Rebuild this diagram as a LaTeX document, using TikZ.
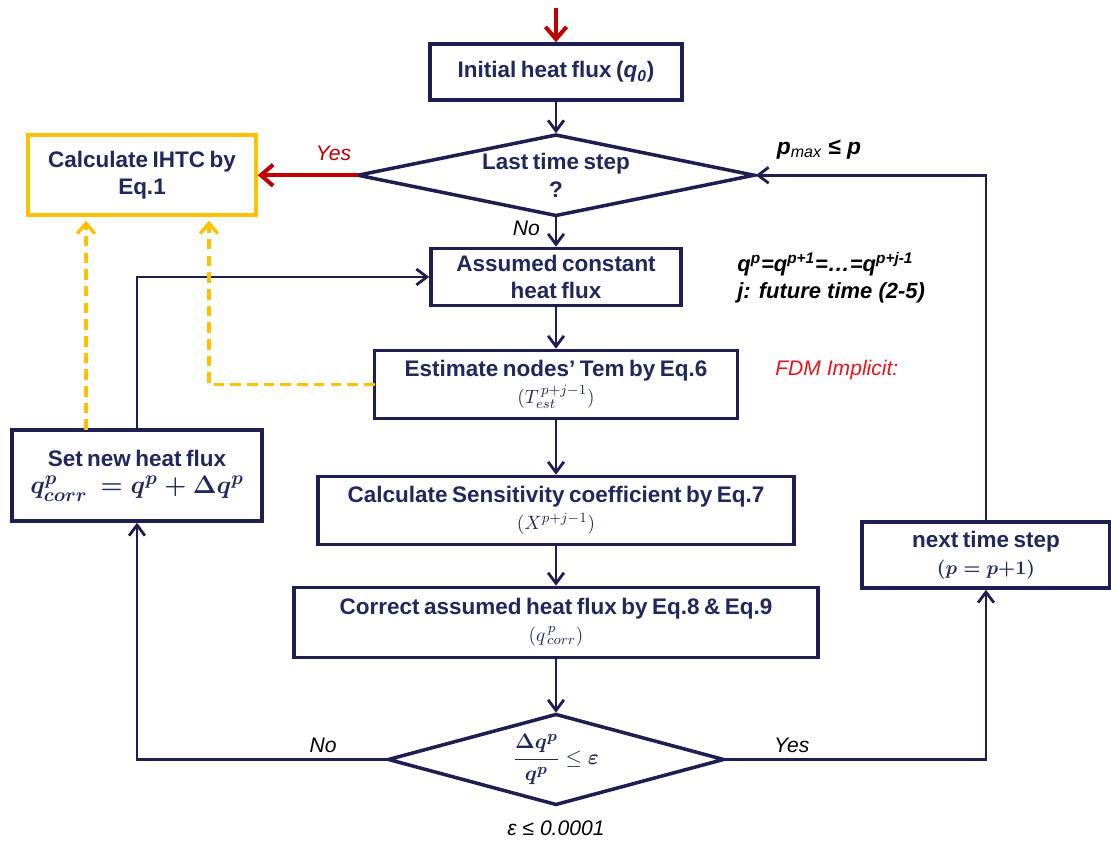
\documentclass[tikz,border=0pt]{standalone}
\usepackage{fontspec}
\setmainfont{Liberation Sans}
\usepackage{amsmath}
\usepackage{tikz}
\usetikzlibrary{positioning, shapes.geometric, arrows.meta}
\definecolor{navyline}{RGB}{30,30,80}
\definecolor{navytext}{RGB}{32,40,92}
\definecolor{darkred}{RGB}{192,0,0}
\definecolor{ambery}{RGB}{255,192,0}
\definecolor{fdmred}{RGB}{230,20,30}
\newcommand{\boxfont}{\fontsize{12.8}{15.5}\selectfont\bfseries\spaceskip=0.2em plus 0.05em\relax}

\begin{document}
\begin{tikzpicture}[font=\fontsize{12}{15}\selectfont, node distance=0.7cm,
  box/.style={draw=navyline, line width=2pt, fill=white, text=navytext, align=center, inner sep=1pt, outer sep=0pt, font=\boxfont},
  dec/.style={diamond, aspect=4, draw=navyline, line width=2pt, fill=white, text=navytext, align=center, inner sep=0pt, outer sep=0pt, font=\boxfont},
  line/.style={draw=navyline, line width=1.6pt, -{Straight Barb[length=6pt, width=9pt]}, shorten >=1pt},
  redline/.style={draw=darkred, line width=2.3pt, -{Straight Barb[length=7pt, width=12pt]}, shorten >=1pt},
  yline/.style={draw=ambery, line width=1.9pt, dash pattern=on 6pt off 3.5pt, -{Straight Barb[length=6pt, width=10pt]}, shorten >=3pt},
  lbl/.style={font=\fontsize{12}{14}\selectfont\itshape}]

\useasboundingbox (0,0) rectangle (22.22,-17);

% main column
\node[box, minimum width=5.04cm, minimum height=1.12cm] (init) at (11.12,-1.44) {Initial heat flux ({\itshape q\textsubscript{0}})};
\node[dec, minimum width=7.92cm, minimum height=1.6cm, below=0.7cm of init] (last) {Last time step\\?};
\node[box, minimum width=5cm, minimum height=1.14cm, below=0.66cm of last] (assumed) {Assumed constant\\heat flux};
\node[box, minimum width=7.26cm, minimum height=1.36cm, below=0.9cm of assumed] (est) {Estimate nodes’ Tem by Eq.6\\{\normalfont\fontsize{11}{13}\selectfont$(T_{est}^{\,p+j-1})$}};
\node[box, minimum width=9.52cm, minimum height=1.36cm, below=1.16cm of est] (sens) {Calculate Sensitivity coefficient by Eq.7\\{\normalfont\fontsize{11}{13}\selectfont$(X^{p+j-1})$}};
\node[box, minimum width=10.48cm, minimum height=1.4cm, below=0.86cm of sens] (corr) {Correct assumed heat flux by Eq.8 \& Eq.9\\{\normalfont\fontsize{11}{13}\selectfont$(q_{\,corr}^{\,p})$}};
\node[dec, aspect=3.7, minimum width=6.7cm, minimum height=1.8cm, below=1.14cm of corr] (conv) {\fontsize{13}{16}\selectfont$\boldsymbol{\dfrac{\Delta q^{p}}{q^{p}}} \le \boldsymbol{\varepsilon}$};

% side boxes
\node[box, draw=ambery, line width=2.4pt, minimum width=4.56cm, minimum height=1.6cm, left=2.04cm of last] (ihtc) {Calculate IHTC by\\Eq.1};
\node[box, minimum width=5cm, minimum height=1.82cm] (setq) at (2.74,-9.51) {Set new heat flux\\{\fontsize{15}{18}\selectfont$\boldsymbol{q^{p}_{corr} \,= q^{p} + \Delta q^{p}}$}};
\node[box, minimum width=4.96cm, minimum height=1.32cm] (next) at (19.72,-11.1) {next time step\\{\normalfont\fontsize{11}{13}\selectfont$\boldsymbol{(p = p{+}1)}$}};

% notes
\node[anchor=north west, align=left, inner sep=0pt, font=\fontsize{12.5}{15}\selectfont\bfseries\itshape] (note) at (14.74,-5.05) {q\textsuperscript{p}=q\textsuperscript{p+1}=\dots=q\textsuperscript{p+j-1}\\j: future time (2-5)};
\node[anchor=west, inner sep=0pt, lbl, text=fdmred] (fdm) at (15.5,-7.4) {FDM Implicit:};
\node[below=0.2cm of conv, lbl] (eps) {ε ≤ 0.0001};

\coordinate (start) at ([yshift=0.72cm]init.north);
\coordinate (yl) at ([xshift=-1.12cm]ihtc.south);
\coordinate (yr) at ([xshift=1.34cm]ihtc.south);

\draw[redline] (start) -- (init);
\draw[line] (init) -- (last);
\draw[line] (last) -- node[pos=0.4, left=5pt, lbl] {No} (assumed);
\draw[line] (assumed) -- (est);
\draw[line] (est) -- (sens);
\draw[line] (sens) -- (corr);
\draw[line] (corr) -- (conv);
\draw[redline] (last.west) -- node[pos=0.24, above=4pt, lbl, text=darkred] {Yes} (ihtc.east);

\draw[line] (conv.west) -| node[pos=0.13, above, lbl] {No} (setq.south);
\draw[line] (setq.north) |- (assumed.west);
\draw[line] (conv.east) -| node[pos=0.13, above, lbl] {Yes} (next.south);
\draw[line] (next.north) |- node[pos=0.86, above=5pt, font=\fontsize{13}{16}\selectfont\bfseries\itshape] {p\textsubscript{\mdseries max} ≤ p} (last.east);

\draw[yline] (yl |- setq.north) -- (yl);
\draw[yline] (est.west) -| (yr);

\end{tikzpicture}
\end{document}
